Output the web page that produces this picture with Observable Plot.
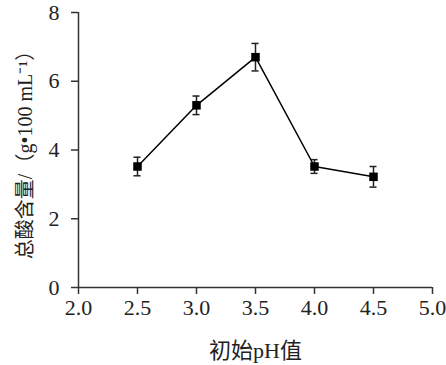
<!DOCTYPE html>
<html><head><meta charset="utf-8">
<script src="https://cdn.jsdelivr.net/npm/d3@7"></script>
<script src="https://cdn.jsdelivr.net/npm/@observablehq/plot@0.6"></script>
<style>
html,body{margin:0;padding:0;background:#fff;}
svg text{fill:#222;}
</style>
</head><body><div id="chart"></div>
<script>
const ph = [2.5, 3.0, 3.5, 4.0, 4.5];
const acid = [3.52, 5.30, 6.70, 3.52, 3.22];
const err = [0.27, 0.27, 0.40, 0.20, 0.30];
const xTicks = [2.0, 2.5, 3.0, 3.5, 4.0, 4.5, 5.0];
const yTicks = [0, 2, 4, 6, 8];
const xLabel = "初始pH值";
const yLabel = "总酸含量/（g•100 mL⁻¹）";

const data = ph.map((p, i) => ({x: p, y: acid[i], lo: acid[i] - err[i], hi: acid[i] + err[i]}));
const cap = 0.03;

const chart = Plot.plot({
  width: 446,
  height: 365,
  marginLeft: 78,
  marginRight: 14,
  marginTop: 12,
  marginBottom: 78,
  style: {fontFamily: "'Liberation Serif', 'Noto Sans CJK SC', serif", fontSize: "21px", background: "#fff", color: "#222"},
  x: {domain: [2, 5], ticks: xTicks},
  y: {domain: [0, 8], ticks: yTicks},
  marks: [
    Plot.axisX({ticks: xTicks, tickFormat: d => d.toFixed(1), tickSize: 7, tickPadding: 5, label: xLabel, labelAnchor: "center", labelArrow: "none", labelOffset: 70, fontSize: 22, stroke: "#333", strokeWidth: 1.5}),
    Plot.axisY({ticks: yTicks, tickSize: 7, tickPadding: 12, label: null, fontSize: 22, stroke: "#333", strokeWidth: 1.5}),
    Plot.axisY({ticks: [], tickSize: 0, label: yLabel, labelAnchor: "center", labelArrow: "none", labelOffset: 61, fontSize: 20}),
    Plot.ruleX([2], {stroke: "#333", strokeWidth: 1.5}),
    Plot.ruleY([0], {stroke: "#333", strokeWidth: 1.5}),
    Plot.ruleX(data, {x: "x", y1: "lo", y2: "hi", stroke: "#222", strokeWidth: 1.5}),
    Plot.ruleY(data, {y: "lo", x1: d => d.x - cap, x2: d => d.x + cap, stroke: "#222", strokeWidth: 1.5}),
    Plot.ruleY(data, {y: "hi", x1: d => d.x - cap, x2: d => d.x + cap, stroke: "#222", strokeWidth: 1.5}),
    Plot.line(data, {x: "x", y: "y", stroke: "#000", strokeWidth: 1.5}),
    Plot.dot(data, {x: "x", y: "y", symbol: "square", r: 4.8, fill: "#000", stroke: "none"})
  ]
});
document.getElementById("chart").appendChild(chart);
</script>
</body></html>
